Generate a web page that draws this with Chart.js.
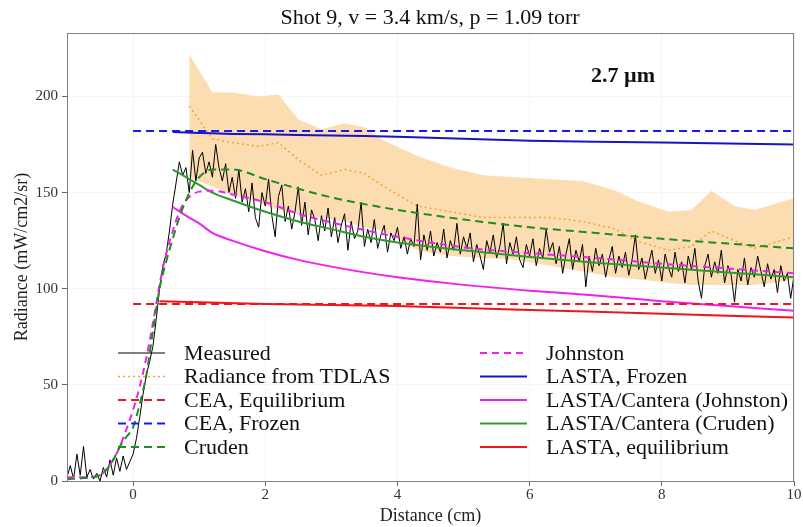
<!DOCTYPE html>
<html>
<head>
<meta charset="utf-8">
<script src="https://cdn.jsdelivr.net/npm/chart.js@4.4.1/dist/chart.umd.min.js"></script>
<style>
  html, body { margin: 0; padding: 0; background: #fff; }
</style>
</head>
<body>
<canvas id="chart" width="803" height="527"></canvas>
<script>
/* ── data ─────────────────────────────────────────────── */
const TITLE = 'Shot 9, v = 3.4 km/s, p = 1.09 torr';
const LABEL = '2.7 \u00b5m';
const xTicks = [0, 2, 4, 6, 8, 10];
const yTicks = [0, 50, 100, 150, 200];

// measured trace, sampled every 0.05 cm from -1 cm
const MEAS_X0 = -1, MEAS_DX = 0.05;
const measured = [
  2, 8, 1, 14, 3, 18, 2, 6, 1, 4, 0, 7, 2, 11, 3, 12, 5, 13, 6, 10,
  14, 22, 33, 45, 55, 62, 70, 84, 100, 112, 118, 130, 144, 155, 166, 159, 163, 150, 172, 156,
  168, 171, 160, 166, 158, 175, 163, 156, 165, 150, 158, 147, 162, 145, 152, 140, 155, 137, 132, 150,
  143, 157, 138, 127, 148, 154, 135, 143, 131, 140, 153, 133, 145, 128, 141, 136, 125, 138, 130, 142,
  127, 137, 124, 133, 139, 120, 135, 126, 130, 145, 122, 131, 124, 136, 121, 128, 133, 119, 129, 125,
  132, 121, 127, 118, 126, 122, 144, 115, 128, 120, 130, 117, 124, 119, 131, 116, 125, 120, 134, 118,
  127, 121, 129, 114, 123, 117, 110, 125, 119, 128, 116, 122, 134, 113, 124, 118, 127, 115, 111, 123,
  117, 126, 112, 121, 116, 131, 119, 124, 113, 122, 108, 118, 126, 110, 120, 114, 123, 101, 117, 109,
  121, 112, 118, 106, 115, 122, 108, 117, 111, 119, 107, 115, 128, 110, 116, 105, 113, 120, 108, 115,
  104, 118, 111, 106, 119, 109, 114, 103, 117, 110, 121, 104, 95, 112, 118, 106, 114, 108, 120, 103,
  112, 107, 93, 110, 104, 116, 102, 111, 106, 117, 109, 101, 113, 105, 110, 98, 112, 104, 108, 95,
  107
];

// TDLAS radiance and its uncertainty band
const tdlasX     = [0.85, 1.2, 1.5, 1.9, 2.2, 2.5, 2.85, 3.2, 3.5, 3.8, 4.3, 4.8, 5.3, 5.8, 6.3, 6.8, 7.3, 7.6, 8.1, 8.45, 8.75, 9.1, 9.4, 9.7, 10];
const tdlas      = [195, 178, 176, 174, 176, 167, 159, 162, 160, 153, 143, 140, 137, 137, 137, 135, 131, 125, 120, 122, 130, 125, 121, 124, 127];
const tdlasUpper = [222, 202, 202, 200, 201, 188, 183, 186, 184, 177, 169, 163, 159, 158, 157, 156, 151, 146, 140, 141, 151, 143, 141, 144, 147];
const tdlasLower = [158, 153, 149, 145, 141, 139, 137, 135, 132, 130, 120, 117, 116, 115, 112, 109, 106, 105, 103, 102, 102, 102, 102, 103, 105];

// CEA constants
const ceaX      = [0, 10];
const ceaEquil  = [92, 92];
const ceaFrozen = [182, 182];

// Cruden / Johnston (dashed)
const rateX    = [-1, -0.75, -0.5, -0.4, -0.3, -0.2, -0.1, 0, 0.1, 0.2, 0.3, 0.4, 0.5, 0.6, 0.7, 0.8, 0.9, 1.0, 1.2, 1.5, 2, 2.5, 3, 3.5, 4, 5, 6, 7, 8, 9, 10];
const cruden   = [1, 1.5, 3, 6, 11, 18, 23, 28, 40, 55, 78, 100, 114, 126, 137, 146, 153, 158, 162, 162, 157, 152, 147.5, 144, 141, 136, 132, 129, 126, 123.5, 121];
const johnston = [2, 2, 3, 6, 11, 18, 27, 37, 49, 64, 82, 102, 118, 130, 140, 146, 149, 150.5, 151, 149, 145, 139, 134.5, 130.5, 127, 121.5, 118.5, 116, 113, 110.5, 108];

// LASTA
const lastaX         = [0.6, 0.8, 1.0, 1.2, 1.5, 2, 2.5, 3, 3.5, 4, 5, 6, 7, 8, 9, 10];
const lastaFrozen    = [181.5, 181.3, 181, 180.8, 180.5, 180.3, 180, 179.7, 179.4, 179, 178, 177, 176.5, 176, 175.5, 175];
const cantJohnston   = [142.5, 138, 134, 129, 125, 119.5, 115, 111.5, 108.5, 106, 102, 99, 96.5, 93.5, 91, 88.5];
const cantCruden     = [162, 158, 154, 150, 146, 140, 135, 131, 127, 124, 120, 116.5, 113.5, 111, 108.5, 106];
const lastaEqX       = [0.4, 1, 2, 3, 4, 5, 6, 7, 8, 9, 10];
const lastaEquil     = [93.5, 93, 92, 91.5, 91, 90, 89, 88, 87, 86, 85];

/* ── helpers ──────────────────────────────────────────── */
const pts = (xs, ys) => xs.map((x, i) => ({ x, y: ys[i] }));
const measPts = measured.map((y, i) => ({ x: MEAS_X0 + i * MEAS_DX, y }));
const SERIF = '"Liberation Serif", "DejaVu Serif", serif';

function line(label, data, color, opts) {
  return Object.assign({
    label, data,
    borderColor: color, backgroundColor: color,
    borderWidth: 2, pointRadius: 0, fill: false, tension: 0,
    showInLegend: true,
  }, opts || {});
}

const datasets = [
  line('Measured', measPts, '#000000', { borderWidth: 1, order: 2 }),
  line('Radiance from TDLAS', pts(tdlasX, tdlas), '#F4A531', { borderWidth: 1.5, borderDash: [2, 3], order: 3 }),
  line('CEA, Equilibrium', pts(ceaX, ceaEquil), '#F0141C', { borderDash: [8, 5], order: 1 }),
  line('CEA, Frozen', pts(ceaX, ceaFrozen), '#1A1AE6', { borderDash: [8, 5], order: 1 }),
  line('Cruden', pts(rateX, cruden), '#1E8C1E', { borderDash: [8, 5], order: 1, cubicInterpolationMode: 'monotone' }),
  line('Johnston', pts(rateX, johnston), '#EE22EE', { borderDash: [7, 5], order: 1, cubicInterpolationMode: 'monotone' }),
  line('LASTA, Frozen', pts(lastaX, lastaFrozen), '#1515C8', { order: 1 }),
  line('LASTA/Cantera (Johnston)', pts(lastaX, cantJohnston), '#EE22EE', { order: 1, cubicInterpolationMode: 'monotone' }),
  line('LASTA/Cantera (Cruden)', pts(lastaX, cantCruden), '#2E9A2E', { order: 1, cubicInterpolationMode: 'monotone' }),
  line('LASTA, equilibrium', pts(lastaEqX, lastaEquil), '#F0141C', { order: 1 }),
  // uncertainty band (upper fills down to lower)
  line('band-upper', pts(tdlasX, tdlasUpper), 'rgba(0,0,0,0)', { borderWidth: 0, fill: '+1', backgroundColor: '#FCDDB1', order: 5, showInLegend: false }),
  line('band-lower', pts(tdlasX, tdlasLower), 'rgba(0,0,0,0)', { borderWidth: 0, order: 5, showInLegend: false }),
];

/* ── overlay: frame, title, label, legend ─────────────── */
const overlay = {
  id: 'overlay',
  afterDraw(chart) {
    const { ctx, chartArea: a } = chart;
    ctx.save();
    ctx.strokeStyle = '#808080';
    ctx.lineWidth = 1;
    ctx.strokeRect(Math.round(a.left) + 0.5, Math.round(a.top) + 0.5,
                   Math.round(a.right - a.left) - 1, Math.round(a.bottom - a.top));

    ctx.fillStyle = '#111';
    ctx.textBaseline = 'middle';
    ctx.textAlign = 'center';
    ctx.font = '22px ' + SERIF;
    ctx.fillText(TITLE, 430, 18);

    ctx.font = 'bold 22px ' + SERIF;
    ctx.fillText(LABEL, 623, 76);

    // two-column legend inside the plot
    ctx.textAlign = 'left';
    ctx.font = '22px ' + SERIF;
    const items = chart.data.datasets.filter(d => d.showInLegend);
    items.forEach((d, i) => {
      const col = i < 5 ? 0 : 1, row = i % 5;
      const x0 = col ? 480 : 118;
      const y = 353 + row * 23.5;
      ctx.strokeStyle = d.borderColor;
      ctx.lineWidth = d.borderWidth;
      ctx.setLineDash(d.borderDash || []);
      ctx.beginPath();
      ctx.moveTo(x0, y);
      ctx.lineTo(x0 + 47, y);
      ctx.stroke();
      ctx.setLineDash([]);
      ctx.fillStyle = '#111';
      ctx.fillText(d.label, x0 + 66, y + 1);
    });
    ctx.restore();
  }
};

/* ── chart ────────────────────────────────────────────── */
new Chart(document.getElementById('chart').getContext('2d'), {
  type: 'line',
  data: { datasets },
  plugins: [overlay],
  options: {
    responsive: false,
    animation: false,
    layout: { padding: { top: 33, right: 9, left: 0, bottom: 0 } },
    plugins: { legend: { display: false }, tooltip: { enabled: false }, title: { display: false } },
    scales: {
      x: {
        type: 'linear', min: -1, max: 10,
        afterBuildTicks: s => { s.ticks = xTicks.map(v => ({ value: v })); },
        afterFit: s => { s.height = 46; },
        grid: { color: '#f5f5f5', tickColor: '#666', tickLength: 5 },
        border: { color: '#808080' },
        ticks: { font: { family: SERIF, size: 15 }, color: '#333', padding: 0, maxRotation: 0 },
        title: { display: true, text: 'Distance (cm)', font: { family: SERIF, size: 18 }, color: '#222', padding: 0 },
      },
      y: {
        type: 'linear', min: 0, max: 233,
        afterBuildTicks: s => { s.ticks = yTicks.map(v => ({ value: v })); },
        afterFit: s => { s.width = 67; },
        grid: { color: '#f5f5f5', tickColor: '#666', tickLength: 5 },
        border: { color: '#808080' },
        ticks: { font: { family: SERIF, size: 15 }, color: '#333', padding: 4 },
        title: { display: true, text: 'Radiance (mW/cm2/sr)', font: { family: SERIF, size: 18 }, color: '#222', padding: { top: 11, bottom: 0 } },
      }
    }
  }
});
</script>
</body>
</html>
